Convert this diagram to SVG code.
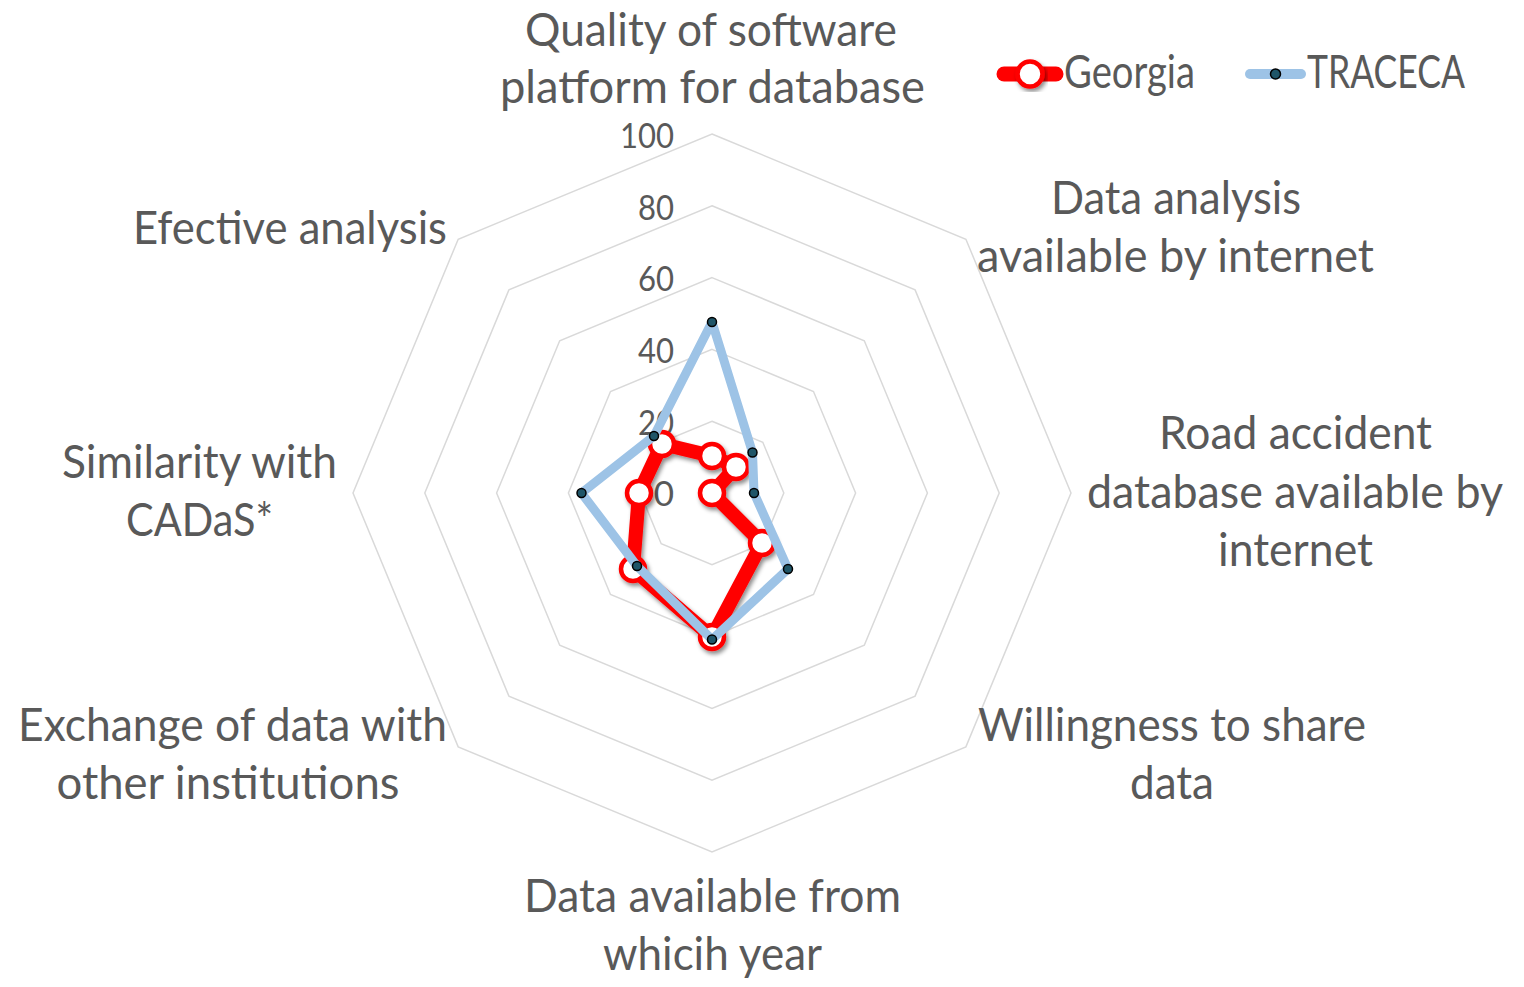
<svg xmlns="http://www.w3.org/2000/svg" width="1524" height="987" viewBox="0 0 1524 987">
<defs>
<filter id="shadow" x="-20%" y="-20%" width="140%" height="140%">
<feDropShadow dx="2" dy="3" stdDeviation="2" flood-color="#000" flood-opacity="0.45"/>
</filter>
<style>
.ring{fill:none;stroke:#D9D9D9;stroke-width:1.5}
.lbl{font-family:Lato,"Open Sans","Liberation Sans",sans-serif;font-size:46px;fill:#595959;text-anchor:middle}
.tick{font-family:Lato,"Open Sans","Liberation Sans",sans-serif;font-size:35px;fill:#595959;text-anchor:end}
.leg{font-family:Lato,"Open Sans","Liberation Sans",sans-serif;font-size:46px;fill:#595959}
.geo-line{fill:none;stroke:#FF0000;stroke-width:14;stroke-linejoin:round;stroke-linecap:round}
.geo-mk{fill:#FFFFFF;stroke:#FF0000;stroke-width:4.5}
.tra-line{fill:none;stroke:#9DC3E6;stroke-width:9;stroke-linejoin:round;stroke-linecap:round}
.tra-mk{fill:#1F5568;stroke:#000000;stroke-width:1.5}
</style>
</defs>
<rect width="1524" height="987" fill="#FFFFFF"/>

<g id="grid">
<polygon class="ring" points="712,421.2 762.8,442.2 783.8,493 762.8,543.8 712,564.8 661.2,543.8 640.2,493 661.2,442.2"/>
<polygon class="ring" points="712,349.4 813.5,391.5 855.6,493 813.5,594.5 712,636.6 610.5,594.5 568.4,493 610.5,391.5"/>
<polygon class="ring" points="712,277.6 864.3,340.7 927.4,493 864.3,645.3 712,708.4 559.7,645.3 496.6,493 559.7,340.7"/>
<polygon class="ring" points="712,205.8 915.1,289.9 999.2,493 915.1,696.1 712,780.2 508.9,696.1 424.8,493 508.9,289.9"/>
<polygon class="ring" points="712,134 965.9,239.2 1071,493 965.9,746.9 712,852 458.2,746.9 353,493 458.2,239.2"/>
</g>

<g id="ticks">
<text class="tick" x="674" y="148" textLength="54" lengthAdjust="spacingAndGlyphs">100</text>
<text class="tick" x="674" y="220" textLength="36" lengthAdjust="spacingAndGlyphs">80</text>
<text class="tick" x="674" y="291" textLength="36" lengthAdjust="spacingAndGlyphs">60</text>
<text class="tick" x="674" y="363" textLength="36" lengthAdjust="spacingAndGlyphs">40</text>
<text class="tick" x="674" y="435" textLength="36" lengthAdjust="spacingAndGlyphs">20</text>
<text class="tick" x="674" y="506">0</text>
</g>

<g id="connectors">
<g id="series-georgia" filter="url(#shadow)">
<polygon class="geo-line" points="712,456 736,467 712,493 762,543 712,637 633,569 639,493 662,444"/>
<circle class="geo-mk" cx="712" cy="456" r="12"/>
<circle class="geo-mk" cx="736" cy="467" r="12"/>
<circle class="geo-mk" cx="712" cy="493" r="12"/>
<circle class="geo-mk" cx="762" cy="543" r="12"/>
<circle class="geo-mk" cx="712" cy="637" r="12"/>
<circle class="geo-mk" cx="633" cy="569" r="12"/>
<circle class="geo-mk" cx="639" cy="493" r="12"/>
<circle class="geo-mk" cx="662" cy="444" r="12"/>
</g>
<g id="series-traceca">
<polygon class="tra-line" points="712,322 752.5,452.5 754,493 788,569 712,639.5 637,566 581.5,493 654,436"/>
<circle class="tra-mk" cx="712" cy="322" r="4.5"/>
<circle class="tra-mk" cx="752.5" cy="452.5" r="4.5"/>
<circle class="tra-mk" cx="754" cy="493" r="4.5"/>
<circle class="tra-mk" cx="788" cy="569" r="4.5"/>
<circle class="tra-mk" cx="712" cy="639.5" r="4.5"/>
<circle class="tra-mk" cx="637" cy="566" r="4.5"/>
<circle class="tra-mk" cx="581.5" cy="493" r="4.5"/>
<circle class="tra-mk" cx="654" cy="436" r="4.5"/>
</g>
</g>

<g id="axis-quality">
<text class="lbl" x="711" y="46" textLength="372" lengthAdjust="spacingAndGlyphs">Quality of software</text>
<text class="lbl" x="712.5" y="103" textLength="425" lengthAdjust="spacingAndGlyphs">platform for database</text>
</g>
<g id="axis-data-analysis">
<text class="lbl" x="1176" y="214" textLength="250" lengthAdjust="spacingAndGlyphs">Data analysis</text>
<text class="lbl" x="1175.5" y="272" textLength="397" lengthAdjust="spacingAndGlyphs">available by internet</text>
</g>
<g id="axis-road-accident">
<text class="lbl" x="1295.5" y="449" textLength="273" lengthAdjust="spacingAndGlyphs">Road accident</text>
<text class="lbl" x="1295" y="508" textLength="416" lengthAdjust="spacingAndGlyphs">database available by</text>
<text class="lbl" x="1295.5" y="566" textLength="155" lengthAdjust="spacingAndGlyphs">internet</text>
</g>
<g id="axis-willingness">
<text class="lbl" x="1172" y="741" textLength="388" lengthAdjust="spacingAndGlyphs">Willingness to share</text>
<text class="lbl" x="1172" y="799" textLength="84" lengthAdjust="spacingAndGlyphs">data</text>
</g>
<g id="axis-year">
<text class="lbl" x="712.5" y="912" textLength="377" lengthAdjust="spacingAndGlyphs">Data available from</text>
<text class="lbl" x="712.5" y="970" textLength="219" lengthAdjust="spacingAndGlyphs">whicih year</text>
</g>
<g id="axis-exchange">
<text class="lbl" x="232.5" y="741" textLength="429" lengthAdjust="spacingAndGlyphs">Exchange of data with</text>
<text class="lbl" x="228" y="799" textLength="343" lengthAdjust="spacingAndGlyphs">other institutions</text>
</g>
<g id="axis-similarity">
<text class="lbl" x="199.5" y="478" textLength="275" lengthAdjust="spacingAndGlyphs">Similarity with</text>
<text class="lbl" x="199.5" y="536" textLength="147" lengthAdjust="spacingAndGlyphs">CADaS*</text>
</g>
<g id="axis-efective">
<text class="lbl" x="290" y="244" textLength="314" lengthAdjust="spacingAndGlyphs">Efective analysis</text>
</g>

<g id="legend">
<g id="legend-georgia">
<line x1="1004" y1="74" x2="1056" y2="74" stroke="#FF0000" stroke-width="15" stroke-linecap="round"/>
<circle cx="1030" cy="74" r="12.5" fill="#FFFFFF" stroke="#FF0000" stroke-width="4.5" filter="url(#shadow)"/>
<text class="leg" x="1064" y="88" textLength="131" lengthAdjust="spacingAndGlyphs">Georgia</text>
</g>
<g id="legend-traceca">
<line x1="1250" y1="74" x2="1301" y2="74" stroke="#9DC3E6" stroke-width="10" stroke-linecap="round"/>
<circle cx="1275.5" cy="74" r="5" fill="#1F5568" stroke="#000000" stroke-width="1.5"/>
<text class="leg" x="1307" y="88" textLength="158" lengthAdjust="spacingAndGlyphs">TRACECA</text>
</g>
</g>
</svg>
